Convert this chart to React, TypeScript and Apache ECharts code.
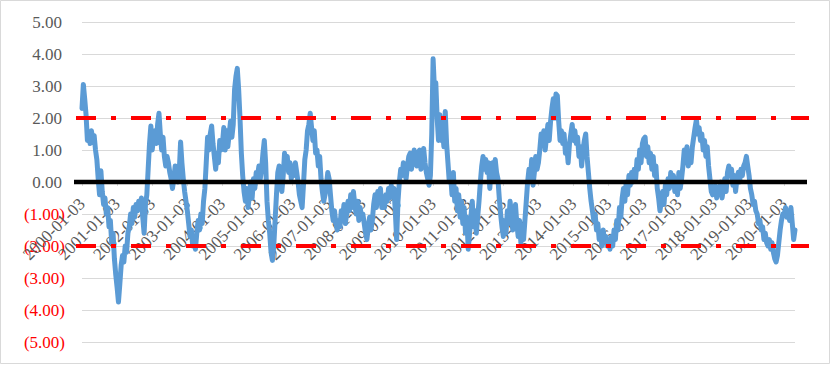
import React, { useEffect, useRef } from "react";
import * as echarts from "echarts";

// Start of the series and sampling (26 readings per year, about every two weeks)
const startDate = "2000-01-03";
const pointsPerYear = 26;

// Tick labels of the date axis
const tickLabels = [
  "2000-01-03", "2001-01-03", "2002-01-03", "2003-01-03", "2004-01-03",
  "2005-01-03", "2006-01-03", "2007-01-03", "2008-01-03", "2009-01-03",
  "2010-01-03", "2011-01-03", "2012-01-03", "2013-01-03", "2014-01-03",
  "2015-01-03", "2016-01-03", "2017-01-03", "2018-01-03", "2019-01-03",
  "2020-01-03",
];

// Series values, one array per year
const v2000 = [2.3, 3.05, 2.6, 2.1, 1.3, 1.55, 1.2, 1.6, 1.3, 1.45, 1.0, 0.7, 0.1, -0.4, 0.35, -0.3, -0.7, -0.5, -1.0, -0.8, -1.4, -1.2, -1.9, -1.6, -2.4, -2.9];
const v2001 = [-3.3, -3.75, -3.2, -2.6, -2.3, -2.5, -2.0, -2.2, -1.6, -1.4, -1.0, -1.3, -0.8, -1.1, -0.7, -0.9, -0.6, -0.8, -0.5, -1.1, -1.6, -0.7, -0.4, 0.4, 1.2, 1.75];
const v2002 = [1.0, 1.4, 1.6, 1.2, 1.8, 2.15, 1.5, 1.0, 1.4, 0.8, 0.5, 0.8, 0.6, 0.3, 0.1, -0.2, 0.1, 0.5, 0.3, 0.0, 0.3, 1.25, 0.6, 0.1, -0.3, -0.6];
const v2003 = [-0.9, -1.3, -1.7, -1.5, -2.0, -1.8, -2.1, -1.6, -1.2, -1.5, -1.0, -1.3, -0.6, -0.2, 0.6, 1.4, 1.0, 1.5, 1.75, 1.2, 0.8, 0.4, 0.9, 0.6, 1.3, 1.0];
const v2004 = [1.2, 1.7, 1.0, 1.6, 1.1, 1.5, 1.9, 1.4, 1.8, 2.9, 3.3, 3.55, 2.9, 2.0, 0.9, 0.2, -0.3, -0.6, -0.2, -0.8, -0.4, 0.0, -0.5, 0.1, -0.2, 0.3];
const v2005 = [0.2, 0.5, 0.1, 0.4, 0.9, 1.3, 0.6, -0.6, -1.2, -1.6, -2.2, -2.45, -2.0, -1.2, -0.4, 0.3, 0.5, 0.1, -0.3, 0.2, 0.9, 0.5, 0.8, 0.3, 0.6, 0.1];
const v2006 = [0.5, 0.2, 0.6, 0.3, 0.0, -0.4, -0.6, -0.8, -0.1, 0.7, 1.0, 1.6, 1.8, 2.15, 1.7, 1.3, 1.6, 0.9, 1.0, 0.5, 0.8, 0.1, -0.3, -0.6, -0.4, -0.1];
const v2007 = [0.3, 0.1, -0.4, -0.9, -1.2, -0.9, -1.3, -1.5, -1.2, -1.4, -0.9, -1.1, -0.7, -1.3, -1.0, -0.6, -0.9, -0.4, -0.8, -0.3, -0.7, -1.0, -0.6, -1.2, -0.8, -1.1];
const v2008 = [-1.0, -1.3, -1.6, -1.8, -1.4, -1.1, -1.5, -1.2, -0.7, -0.4, -0.8, -0.3, -0.6, -0.2, -0.8, -0.5, -0.8, -0.4, -0.6, -0.2, -0.5, -0.1, -0.4, -0.2, -0.9, -1.8];
const v2009 = [-0.6, 0.0, 0.4, 0.2, 0.6, 0.3, 0.1, 0.5, 0.8, 0.9, 0.4, 0.7, 1.0, 0.6, 0.5, 0.9, 1.0, 0.4, 0.7, 1.05, 0.6, 0.3, 0.1, -0.1, 0.2, 1.5];
const v2010 = [3.85, 2.9, 3.1, 2.0, 1.3, 2.1, 1.3, 1.6, 1.1, 2.2, 1.2, 0.6, 0.0, 0.2, -0.4, 0.3, -0.6, -0.2, -0.9, -0.4, -1.1, -0.6, -1.3, -0.8, -1.6, -1.1];
const v2011 = [-2.1, -1.6, -1.1, -0.6, -1.4, -0.9, -1.6, -1.1, -0.6, 0.0, 0.5, 0.8, 0.4, 0.7, 0.3, 0.6, -0.2, 0.5, 0.6, 0.1, 0.7, 0.3, 0.1, -0.5, -1.0, -1.4];
const v2012 = [-1.7, -1.2, -1.6, -0.9, -1.3, -0.6, -1.0, -1.5, -1.1, -0.7, -1.3, -1.7, -1.2, -1.9, -1.5, -1.8, -1.2, -0.6, 0.0, 0.4, 0.1, 0.7, -0.1, 0.3, 0.8, 0.4];
const v2013 = [0.6, 1.0, 1.5, 1.2, 1.6, 1.0, 1.4, 1.8, 1.3, 1.9, 2.3, 2.6, 2.0, 2.75, 2.7, 1.9, 1.3, 1.6, 1.2, 1.5, 0.9, 1.1, 0.6, 1.2, 1.5, 1.8];
const v2014 = [1.3, 1.6, 1.2, 1.4, 0.8, 1.1, 0.5, 1.0, 1.3, 1.5, 0.8, 0.3, -0.2, -0.6, -0.9, -1.2, -1.0, -1.5, -1.3, -1.8, -1.6, -2.0, -1.5, -1.9, -1.7, -2.0];
const v2015 = [-1.8, -2.1, -1.7, -2.0, -1.5, -1.8, -1.2, -1.5, -0.8, -1.1, -0.5, -0.2, -0.6, 0.0, -0.4, 0.2, -0.1, 0.3, 0.0, 0.4, 0.1, 0.7, 0.4, 1.0, 0.6, 1.2];
const v2016 = [1.35, 1.4, 0.8, 1.1, 0.6, 0.9, 0.4, 0.8, 0.2, 0.5, -0.2, -0.5, -0.9, -0.6, -0.3, -0.7, -0.1, -0.4, 0.1, -0.2, 0.3, -0.1, 0.2, -0.3, 0.1, -0.4];
const v2017 = [0.3, -0.2, 0.1, 0.5, 1.0, 0.6, 1.1, 0.5, 0.9, 0.6, 1.1, 1.4, 1.7, 1.95, 1.5, 1.7, 1.3, 1.5, 1.0, 1.3, 0.8, 1.1, 0.5, 0.1, -0.3, -0.4];
const v2018 = [-0.3, -0.1, -0.5, -0.2, -0.4, 0.0, -0.5, -0.2, 0.1, -0.3, 0.3, 0.5, 0.2, 0.4, -0.1, 0.2, -0.3, 0.1, 0.3, 0.0, 0.4, 0.2, 0.5, 0.6, 0.8, 0.5];
const v2019 = [0.2, -0.2, -0.4, -0.7, -0.6, -0.9, -1.0, -1.3, -1.2, -1.5, -1.4, -1.8, -1.6, -1.9, -2.0, -1.8, -2.1, -1.9, -2.2, -2.4, -2.5, -2.3, -1.9, -1.5, -1.2, -1.0];
const v2020 = [-1.0, -0.8, -1.1, -0.9, -1.2, -0.8, -1.3, -1.8, -1.5];

// Reference levels
const zeroLevel = 0;
const bandLevels = [2, -2];

// Value axis
const yMin = -5;
const yMax = 5;
const yStep = 1;

const FONT = "Liberation Serif";
const FS = 17;

function parseDate(s: string): number {
  const [y, m, d] = s.split("-").map(Number);
  return Date.UTC(y, m - 1, d);
}

export default function App() {
  const ref = useRef<HTMLDivElement>(null);

  useEffect(() => {
    if (!ref.current) return;
    const chart = echarts.init(ref.current, null, { renderer: "svg" });

    const values = [
      ...v2000, ...v2001, ...v2002, ...v2003, ...v2004, ...v2005, ...v2006,
      ...v2007, ...v2008, ...v2009, ...v2010, ...v2011, ...v2012, ...v2013,
      ...v2014, ...v2015, ...v2016, ...v2017, ...v2018, ...v2019, ...v2020,
    ];
    const t0 = parseDate(startDate);
    const step = (365.25 * 86400000) / pointsPerYear;
    const data = values.map((v, i) => [t0 + i * step, v]);
    const tMax = t0 + (values.length - 1) * step;
    const tickTimes = tickLabels.map(parseDate);

    const labelFor = (val: number) => {
      let best = 0;
      let bd = Infinity;
      tickTimes.forEach((t, i) => {
        const d = Math.abs(t - val);
        if (d < bd) {
          bd = d;
          best = i;
        }
      });
      return tickLabels[best];
    };

    chart.setOption({
      animation: false,
      grid: {
        left: 82,
        right: 37,
        top: 22,
        bottom: 23,
        containLabel: false,
        outerBoundsMode: "none",
      },
      xAxis: {
        type: "value",
        min: t0,
        max: tMax,
        offset: 0,
        axisLine: { show: true, onZero: false, lineStyle: { color: "#D9D9D9", width: 1 } },
        axisTick: {
          show: true,
          customValues: tickTimes,
          length: 4,
          inside: false,
          lineStyle: { color: "#D9D9D9" },
        },
        axisLabel: {
          customValues: tickTimes,
          rotate: 45,
          margin: 19,
          hideOverlap: false,
          showMinLabel: true,
          showMaxLabel: true,
          formatter: (val: number) => labelFor(val),
          fontFamily: FONT,
          fontSize: FS,
          color: "#595959",
        },
        splitLine: { show: false },
      },
      yAxis: {
        type: "value",
        min: yMin,
        max: yMax,
        interval: yStep,
        axisLine: { show: false },
        axisTick: { show: false },
        splitLine: { lineStyle: { color: "#D9D9D9", width: 1 } },
        axisLabel: {
          margin: 17,
          formatter: (v: number) =>
            v < 0 ? `{n|(${Math.abs(v).toFixed(2)})}` : `{p|${v.toFixed(2)}}`,
          rich: {
            n: { color: "#FF0000", fontFamily: FONT, fontSize: FS },
            p: { color: "#595959", fontFamily: FONT, fontSize: FS, padding: [0, 3, 0, 0] },
          },
        },
      },
      series: [
        {
          type: "line",
          data,
          showSymbol: false,
          symbol: "none",
          lineStyle: { color: "#5B9BD5", width: 5, join: "round", cap: "round" },
          itemStyle: { color: "#5B9BD5" },
          z: 2,
        },
      ],
    });

    const yPix = (v: number) => chart.convertToPixel({ yAxisIndex: 0 }, v) as number;
    // place the date axis on the zero line
    chart.setOption({ xAxis: { offset: yPix(zeroLevel) - yPix(yMin) } });

    const y0 = yPix(zeroLevel);
    const graphics: any[] = [
      {
        type: "rect",
        shape: { x: 0.5, y: 0.5, width: 829, height: 363 },
        style: { fill: "none", stroke: "#D9D9D9", lineWidth: 1 },
        z: 1,
        silent: true,
      },
      {
        type: "line",
        shape: { x1: 74, y1: y0, x2: 807, y2: y0 },
        style: { stroke: "#000000", lineWidth: 4.5 },
        z: 10,
        silent: true,
      },
      ...bandLevels.map((lv) => {
        const yy = yPix(lv);
        return {
          type: "line",
          shape: { x1: 76, y1: yy, x2: 809, y2: yy },
          style: { stroke: "#FF0000", lineWidth: 4, lineDash: [20, 15, 5, 15] },
          z: 11,
          silent: true,
        };
      }),
    ];
    chart.setOption({ graphic: graphics });

    return () => chart.dispose();
  }, []);

  return (
    <div
      ref={ref}
      style={{ position: "absolute", left: 0, top: 0, width: 832, height: 365, background: "#fff" }}
    />
  );
}
